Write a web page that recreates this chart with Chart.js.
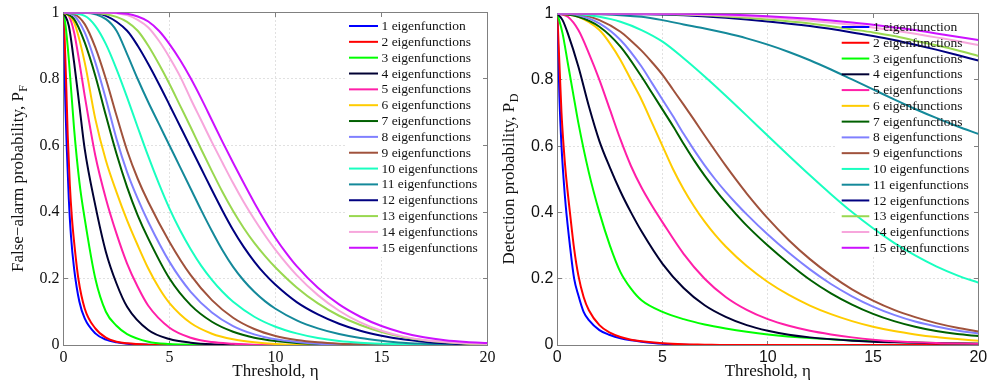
<!DOCTYPE html>
<html>
<head>
<meta charset="utf-8">
<script src="https://cdn.jsdelivr.net/npm/chart.js@4.4.0/dist/chart.umd.min.js"></script>
<style>
  html, body { margin: 0; padding: 0; background: #fff; }
  #wrap { position: relative; width: 989px; height: 388px; overflow: hidden; }
  canvas { position: absolute; top: 0; }
  #pfChart { left: 0; }
  #pdChart { left: 495px; }
</style>
</head>
<body>
<div id="wrap">
  <canvas id="pfChart" width="520" height="388"></canvas>
  <canvas id="pdChart" width="494" height="388"></canvas>
</div>
<script>
// sumbu dan label
const etaTicks = [0, 5, 10, 15, 20];
const probTicks = [0, 0.2, 0.4, 0.6, 0.8, 1];
const probTickLabels = ["0", "0.2", "0.4", "0.6", "0.8", "1"];
const legendLabels = [
  "1 eigenfunction", "2 eigenfunctions", "3 eigenfunctions", "4 eigenfunctions",
  "5 eigenfunctions", "6 eigenfunctions", "7 eigenfunctions", "8 eigenfunctions",
  "9 eigenfunctions", "10 eigenfunctions", "11 eigenfunctions", "12 eigenfunctions",
  "13 eigenfunctions", "14 eigenfunctions", "15 eigenfunctions"
];

// kiri: false-alarm probability, titik [eta, P_F]
const pf1 = [[0,1],[0.05,0.82],[0.1,0.7],[0.15,0.6],[0.25,0.44],[0.35,0.33],[0.5,0.23],[0.75,0.13],[1,0.08],[1.5,0.035],[2,0.016],[2.5,0.008],[3,0.004],[4,0.001],[5,0],[20,0]];
const pf2 = [[0,1],[0.05,0.93],[0.12,0.8],[0.2,0.63],[0.3,0.48],[0.4,0.38],[0.5,0.31],[0.7,0.2],[1,0.11],[1.5,0.05],[2,0.022],[2.5,0.01],[3,0.005],[4,0.001],[5,0],[20,0]];
const pf3 = [[0,1],[0.1,0.96],[0.25,0.86],[0.5,0.65],[0.75,0.49],[1,0.38],[1.5,0.2],[2,0.1],[2.5,0.058],[3,0.033],[4,0.01],[5,0.003],[6,0.001],[7,0],[20,0]];
const pf4 = [[0,1],[0.25,0.96],[0.5,0.85],[0.75,0.72],[1,0.59],[1.5,0.42],[2,0.28],[2.5,0.185],[3,0.115],[4,0.045],[5,0.018],[6,0.007],[7,0.002],[8,0.001],[9,0],[20,0]];
const pf5 = [[0,1],[0.25,0.99],[0.5,0.94],[0.75,0.85],[1,0.75],[1.5,0.57],[2,0.44],[2.5,0.335],[3,0.245],[3.5,0.175],[4,0.118],[5,0.052],[6,0.022],[7,0.009],[8,0.004],[9,0.001],[10,0],[20,0]];
const pf6 = [[0,1],[0.5,0.97],[1,0.85],[1.5,0.68],[2,0.555],[2.5,0.46],[3,0.375],[3.5,0.3],[4,0.23],[4.5,0.172],[5,0.126],[6,0.066],[7,0.034],[8,0.017],[9,0.008],[10,0.003],[12,0],[20,0]];
const pf7 = [[0,1],[0.5,0.98],[1,0.91],[1.5,0.81],[2,0.69],[2.5,0.575],[3,0.475],[3.5,0.39],[4,0.32],[5,0.2],[6,0.12],[7,0.07],[8,0.04],[9,0.022],[10,0.012],[11,0.006],[12,0.003],[14,0],[20,0]];
const pf8 = [[0,1],[0.5,0.99],[1,0.94],[1.5,0.85],[2,0.74],[2.5,0.62],[3,0.52],[3.5,0.44],[4,0.37],[5,0.25],[6,0.16],[7,0.098],[8,0.057],[9,0.032],[10,0.017],[11,0.009],[12,0.004],[13,0.002],[14,0.001],[15,0],[20,0]];
const pf9 = [[0,1],[0.5,0.995],[1,0.965],[1.5,0.895],[2,0.8],[2.5,0.69],[3,0.585],[3.5,0.5],[4,0.43],[5,0.31],[6,0.21],[7,0.135],[8,0.082],[9,0.048],[10,0.027],[11,0.015],[12,0.008],[13,0.004],[14,0.002],[15,0.001],[16,0],[20,0]];
const pf10 = [[0,1],[1,0.99],[1.5,0.96],[2,0.905],[2.5,0.83],[3,0.745],[3.5,0.655],[4,0.567],[4.5,0.485],[5,0.41],[5.5,0.345],[6,0.288],[6.5,0.238],[7,0.196],[7.5,0.16],[8,0.13],[9,0.085],[10,0.055],[11,0.035],[12,0.021],[13,0.012],[14,0.007],[15,0.004],[16,0.002],[17,0.001],[18,0],[20,0]];
const pf11 = [[0,1],[1,0.999],[2,0.98],[2.5,0.945],[3,0.875],[3.5,0.8],[4,0.73],[4.5,0.665],[5,0.6],[5.5,0.535],[6,0.47],[6.5,0.405],[7,0.343],[7.5,0.285],[8,0.235],[8.5,0.194],[9,0.16],[9.5,0.132],[10,0.109],[11,0.074],[12,0.05],[13,0.033],[14,0.021],[15,0.013],[16,0.007],[17,0.004],[18,0.002],[20,0]];
const pf12 = [[0,1],[1,1],[2,0.99],[3,0.945],[3.5,0.9],[4,0.845],[4.5,0.785],[5,0.722],[5.5,0.658],[6,0.594],[6.5,0.53],[7,0.466],[7.5,0.404],[8,0.346],[8.5,0.295],[9,0.251],[9.5,0.213],[10,0.181],[11,0.129],[12,0.092],[13,0.064],[14,0.043],[15,0.028],[16,0.017],[17,0.01],[18,0.005],[19,0.002],[20,0.001]];
const pf13 = [[0,1],[1,1],[2,0.995],[2.5,0.987],[3,0.972],[3.5,0.945],[4,0.9],[4.5,0.845],[5,0.785],[5.5,0.72],[6,0.655],[6.5,0.588],[7,0.523],[7.5,0.46],[8,0.403],[8.5,0.352],[9,0.307],[9.5,0.268],[10,0.233],[11,0.173],[12,0.125],[13,0.088],[14,0.06],[15,0.039],[16,0.024],[17,0.014],[18,0.008],[19,0.004],[20,0.002]];
const pf14 = [[0,1],[2,1],[2.5,0.998],[3,0.992],[3.5,0.978],[4,0.955],[4.5,0.915],[5,0.865],[5.5,0.808],[6,0.74],[6.5,0.675],[7,0.61],[7.5,0.548],[8,0.487],[8.5,0.43],[9,0.378],[9.5,0.33],[10,0.286],[11,0.21],[12,0.15],[13,0.103],[14,0.068],[15,0.043],[16,0.026],[17,0.015],[18,0.009],[19,0.005],[20,0.003]];
const pf15 = [[0,1],[2,1],[2.5,0.999],[3,0.996],[3.5,0.988],[4,0.973],[4.5,0.945],[5,0.905],[5.5,0.857],[6,0.802],[6.5,0.741],[7,0.676],[7.5,0.611],[8,0.548],[8.5,0.487],[9,0.428],[9.5,0.373],[10,0.322],[10.5,0.277],[11,0.237],[12,0.172],[13,0.122],[14,0.085],[15,0.057],[16,0.037],[17,0.023],[18,0.014],[19,0.009],[20,0.006]];

// kanan: detection probability, titik [eta, P_D]
const pd1 = [[0,1],[0.1,0.75],[0.2,0.6],[0.3,0.5],[0.4,0.42],[0.6,0.3],[0.8,0.2],[1,0.15],[1.25,0.1],[1.5,0.075],[2,0.045],[2.5,0.03],[3,0.02],[3.5,0.014],[4,0.01],[5,0.004],[6,0.001],[7,0],[20,0]];
const pd2 = [[0,1],[0.1,0.85],[0.2,0.7],[0.3,0.6],[0.4,0.52],[0.6,0.4],[0.8,0.29],[1,0.21],[1.25,0.145],[1.5,0.105],[2,0.06],[2.5,0.037],[3,0.024],[3.5,0.016],[4,0.011],[5,0.005],[6,0.002],[7,0.001],[8,0],[20,0]];
const pd3 = [[0,1],[0.25,0.94],[0.5,0.85],[0.75,0.76],[1,0.67],[1.5,0.52],[2,0.4],[2.5,0.3],[3,0.22],[3.5,0.17],[4,0.135],[5,0.1],[6,0.078],[7,0.062],[8,0.05],[9,0.04],[10,0.032],[12,0.021],[14,0.014],[16,0.009],[18,0.006],[20,0.004]];
const pd4 = [[0,1],[0.25,0.98],[0.5,0.94],[1,0.84],[1.5,0.72],[2,0.615],[2.5,0.535],[3,0.463],[3.5,0.4],[4,0.343],[5,0.245],[6,0.172],[7,0.12],[8,0.085],[9,0.06],[10,0.043],[11,0.031],[12,0.023],[14,0.013],[16,0.008],[18,0.005],[20,0.004]];
const pd5 = [[0,1],[0.5,0.99],[1,0.95],[1.5,0.88],[2,0.8],[2.5,0.71],[3,0.62],[3.5,0.54],[4,0.475],[4.5,0.42],[5,0.37],[6,0.275],[7,0.2],[8,0.145],[9,0.106],[10,0.078],[11,0.058],[12,0.043],[13,0.032],[14,0.023],[15,0.016],[16,0.011],[18,0.006],[20,0.004]];
const pd6 = [[0,1],[1,0.99],[2,0.95],[2.5,0.91],[3,0.86],[3.5,0.8],[4,0.74],[4.5,0.67],[5,0.6],[5.5,0.53],[6,0.47],[6.5,0.418],[7,0.372],[7.5,0.332],[8,0.297],[9,0.238],[10,0.19],[11,0.151],[12,0.119],[13,0.093],[14,0.072],[15,0.055],[16,0.042],[17,0.032],[18,0.024],[19,0.018],[20,0.013]];
const pd7 = [[0,1],[1,0.99],[2,0.96],[3,0.9],[4,0.81],[4.5,0.76],[5,0.71],[5.5,0.66],[6,0.607],[6.5,0.557],[7,0.511],[7.5,0.469],[8,0.43],[8.5,0.394],[9,0.36],[10,0.3],[11,0.246],[12,0.197],[13,0.156],[14,0.122],[15,0.094],[16,0.072],[17,0.055],[18,0.042],[19,0.033],[20,0.027]];
const pd8 = [[0,1],[1,0.995],[2,0.97],[3,0.92],[4,0.84],[4.5,0.79],[5,0.74],[5.5,0.69],[6,0.637],[6.5,0.588],[7,0.542],[7.5,0.5],[8,0.462],[8.5,0.427],[9,0.394],[10,0.333],[11,0.278],[12,0.228],[13,0.184],[14,0.147],[15,0.116],[16,0.091],[17,0.071],[18,0.056],[19,0.044],[20,0.035]];
const pd9 = [[0,1],[1,0.998],[2,0.98],[3,0.945],[3.5,0.918],[4,0.888],[4.5,0.853],[5,0.815],[5.5,0.77],[6,0.725],[6.5,0.679],[7,0.632],[7.5,0.586],[8,0.541],[8.5,0.498],[9,0.457],[10,0.382],[11,0.316],[12,0.259],[13,0.21],[14,0.168],[15,0.134],[16,0.106],[17,0.084],[18,0.066],[19,0.052],[20,0.041]];
const pd10 = [[0,1],[1,0.998],[2,0.99],[3,0.975],[4,0.95],[5,0.915],[6,0.865],[7,0.81],[8,0.752],[9,0.692],[10,0.631],[11,0.571],[12,0.512],[13,0.455],[14,0.401],[15,0.352],[16,0.308],[17,0.27],[18,0.237],[19,0.21],[20,0.188]];
const pd11 = [[0,1],[2,0.998],[4,0.99],[5,0.98],[6,0.967],[7,0.955],[8,0.941],[9,0.925],[10,0.906],[11,0.884],[12,0.859],[13,0.831],[14,0.801],[15,0.771],[16,0.741],[17,0.712],[18,0.685],[19,0.66],[20,0.637]];
const pd12 = [[0,1],[4,0.998],[6,0.995],[8,0.987],[10,0.976],[12,0.962],[14,0.943],[15,0.932],[16,0.92],[17,0.906],[18,0.891],[19,0.875],[20,0.858]];
const pd13 = [[0,1],[4,0.999],[6,0.997],[8,0.991],[10,0.982],[12,0.97],[14,0.952],[15,0.943],[16,0.932],[17,0.918],[18,0.904],[19,0.889],[20,0.872]];
const pd14 = [[0,1],[6,0.998],[8,0.994],[10,0.988],[12,0.978],[14,0.966],[15,0.958],[16,0.949],[17,0.939],[18,0.928],[19,0.917],[20,0.905]];
const pd15 = [[0,1],[6,0.999],[8,0.997],[10,0.992],[12,0.984],[14,0.973],[15,0.966],[16,0.958],[17,0.95],[18,0.94],[19,0.93],[20,0.92]];

const pfCurves = [pf1, pf2, pf3, pf4, pf5, pf6, pf7, pf8, pf9, pf10, pf11, pf12, pf13, pf14, pf15];
const pdCurves = [pd1, pd2, pd3, pd4, pd5, pd6, pd7, pd8, pd9, pd10, pd11, pd12, pd13, pd14, pd15];

const lineColors = [
  "#0000ff", "#ff0000", "#00ff00", "#000033", "#ff1fa8",
  "#ffcc00", "#006000", "#8080ff", "#a0523c", "#19ffc0",
  "#14899a", "#000080", "#99d850", "#f7a6dc", "#cc11ff"
];

const serif = "'Liberation Serif', 'Times New Roman', Times, serif";
const sans = "'Liberation Sans', Arial, Helvetica, sans-serif";

function buildDatasets(curves) {
  return curves.map((c, i) => ({
    label: legendLabels[i],
    data: c.map(p => ({ x: p[0], y: p[1] })),
    borderColor: lineColors[i],
    borderWidth: 2,
    pointRadius: 0,
    fill: false,
    cubicInterpolationMode: "monotone",
    order: curves.length - i, // kurva terakhir digambar paling atas
  }));
}

// kotak ala MATLAB: grid titik-titik, box abu-abu, tick ke dalam, legenda, judul sumbu
function matlabFrame(cfg) {
  const crisp = v => Math.round(v - 0.5) + 0.5;
  return {
    id: "matlabFrame",
    beforeDatasetsDraw(chart) {
      const { ctx, chartArea: a, scales } = chart;
      const L = crisp(a.left), R = crisp(a.right), T = crisp(a.top), B = crisp(a.bottom);
      ctx.save();
      ctx.lineWidth = 1;
      ctx.strokeStyle = "#c2c2c2";
      ctx.setLineDash([1, 3]);
      ctx.beginPath();
      etaTicks.forEach(v => {
        const px = crisp(scales.x.getPixelForValue(v));
        if (px > L + 1 && px < R - 1) { ctx.moveTo(px, T); ctx.lineTo(px, B); }
      });
      probTicks.forEach(v => {
        const py = crisp(scales.y.getPixelForValue(v));
        if (py > T + 1 && py < B - 1) { ctx.moveTo(L, py); ctx.lineTo(R, py); }
      });
      ctx.stroke();
      ctx.setLineDash([]);

      // latar legenda menutup grid
      ctx.fillStyle = "#fff";
      ctx.fillRect(cfg.boxLeft, cfg.boxTop, R - cfg.boxLeft, cfg.boxHeight);

      ctx.strokeStyle = "#808080";
      ctx.strokeRect(L, T, R - L, B - T);
      const tk = 4.5;
      ctx.beginPath();
      etaTicks.forEach(v => {
        const px = crisp(scales.x.getPixelForValue(v));
        ctx.moveTo(px, B); ctx.lineTo(px, B - tk);
        ctx.moveTo(px, T); ctx.lineTo(px, T + tk);
      });
      probTicks.forEach(v => {
        const py = crisp(scales.y.getPixelForValue(v));
        ctx.moveTo(L, py); ctx.lineTo(L + tk, py);
        ctx.moveTo(R, py); ctx.lineTo(R - tk, py);
      });
      ctx.stroke();
      ctx.restore();
    },
    afterDatasetsDraw(chart) {
      const ctx = chart.ctx;
      ctx.save();
      ctx.font = "13.5px " + serif;
      ctx.textBaseline = "middle";
      ctx.textAlign = "left";
      chart.data.datasets.forEach((ds, i) => {
        const yy = cfg.legendTop + i * cfg.legendStep;
        ctx.strokeStyle = ds.borderColor;
        ctx.lineWidth = 2;
        ctx.beginPath();
        ctx.moveTo(cfg.lineX0, yy);
        ctx.lineTo(cfg.lineX1, yy);
        ctx.stroke();
        ctx.fillStyle = "#111";
        ctx.fillText(ds.label, cfg.textX, yy + 0.5);
      });
      ctx.restore();
    },
    afterDraw(chart) {
      const { ctx, chartArea: a } = chart;
      ctx.save();
      ctx.fillStyle = "#111";
      ctx.font = "17px " + serif;
      ctx.textAlign = "center";
      ctx.textBaseline = "middle";
      ctx.fillText("Threshold, η", (a.left + a.right) / 2, cfg.xTitleY);

      ctx.translate(cfg.yTitleX, (a.top + a.bottom) / 2);
      ctx.rotate(-Math.PI / 2);
      const mainW = ctx.measureText(cfg.yTitle).width;
      ctx.font = "12px " + serif;
      const subW = ctx.measureText(cfg.ySub).width;
      const start = -(mainW + subW) / 2;
      ctx.textAlign = "left";
      ctx.font = "17px " + serif;
      ctx.fillText(cfg.yTitle, start, 0);
      ctx.font = "12px " + serif;
      ctx.fillText(cfg.ySub, start + mainW + 0.5, 5);
      ctx.restore();
    },
  };
}

function makeChart(id, curves, tickFamily, geom, frameCfg) {
  const ctx = document.getElementById(id).getContext("2d");
  return new Chart(ctx, {
    type: "line",
    data: { datasets: buildDatasets(curves) },
    options: {
      responsive: false,
      animation: false,
      devicePixelRatio: 1,
      events: [],
      layout: { padding: { left: 0, right: geom.padRight, top: geom.padTop, bottom: 0 } },
      plugins: { legend: { display: false }, tooltip: { enabled: false }, title: { display: false } },
      scales: {
        x: {
          type: "linear",
          min: 0,
          max: 20,
          afterBuildTicks: s => { s.ticks = etaTicks.map(v => ({ value: v })); },
          ticks: { font: { family: tickFamily, size: 16 }, color: "#111", padding: 3, maxRotation: 0, autoSkip: false },
          grid: { display: false, drawTicks: false },
          border: { display: false },
          afterFit: s => { s.height = 43; s.paddingLeft = 0; s.paddingRight = 0; },
        },
        y: {
          type: "linear",
          min: 0,
          max: 1,
          afterBuildTicks: s => { s.ticks = probTicks.map(v => ({ value: v })); },
          ticks: {
            font: { family: tickFamily, size: 16 },
            color: "#111",
            padding: 4,
            autoSkip: false,
            callback: (v, i) => probTickLabels[i],
          },
          grid: { display: false, drawTicks: false },
          border: { display: false },
          afterFit: s => { s.width = geom.yWidth; s.paddingTop = 0; s.paddingBottom = 0; },
        },
      },
    },
    plugins: [matlabFrame(frameCfg)],
  });
}

makeChart("pfChart", pfCurves, serif,
  { padRight: 32.5, padTop: 12.5, yWidth: 63.5 },
  { boxLeft: 345, boxTop: 17, boxHeight: 240, lineX0: 349, lineX1: 378, textX: 381.5,
    legendTop: 26, legendStep: 15.84, yTitleX: 19, xTitleY: 372,
    yTitle: "False\u2212alarm probability, P", ySub: "F" });

makeChart("pdChart", pdCurves, sans,
  { padRight: 10.7, padTop: 13.5, yWidth: 62.3 },
  { boxLeft: 342, boxTop: 17, boxHeight: 240, lineX0: 346.7, lineX1: 374.3, textX: 378,
    legendTop: 27, legendStep: 15.77, yTitleX: 14.5, xTitleY: 372,
    yTitle: "Detection probability, P", ySub: "D" });
</script>
</body>
</html>
